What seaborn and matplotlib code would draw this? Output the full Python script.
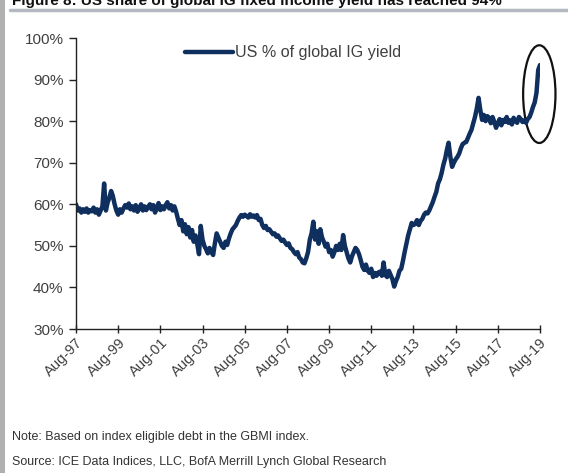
import numpy as np
import pandas as pd
import matplotlib
matplotlib.use("Agg")
import matplotlib.pyplot as plt
import matplotlib.dates as mdates
from matplotlib.patches import Ellipse
from matplotlib.ticker import FuncFormatter
import seaborn as sns

# Monthly values (US % of global IG yield)
y1997 = [60.0, 58.5, 59.0, 58.0, 58.8]  # Aug-Dec
y1998 = [58.2, 59.0, 58.0, 58.6, 58.3, 59.2, 58.0, 58.8, 57.5, 58.5, 59.5, 65.0]
y1999 = [58.5, 60.5, 61.5, 63.2, 62.0, 60.0, 58.5, 57.5, 58.8, 58.0, 59.0, 59.8]
y2000 = [59.2, 60.2, 58.8, 59.5, 58.5, 59.8, 58.2, 59.0, 60.0, 58.5, 59.5, 58.6]
y2001 = [59.4, 60.0, 58.8, 59.8, 58.0, 59.2, 60.3, 58.6, 59.5, 58.8, 59.8, 60.5]
y2002 = [59.0, 59.8, 58.5, 59.5, 58.2, 56.5, 55.0, 56.2, 53.5, 55.2, 52.8, 54.5]
y2003 = [52.0, 53.8, 51.0, 52.5, 50.5, 48.0, 54.8, 51.5, 50.0, 49.2, 48.2, 49.5]
y2004 = [48.5, 47.8, 50.5, 53.0, 52.0, 51.0, 50.0, 49.5, 51.0, 50.2, 51.8, 53.0]
y2005 = [54.0, 54.5, 55.0, 56.0, 56.8, 57.4, 57.0, 57.5, 57.2, 56.8, 57.6, 57.0]
y2006 = [57.3, 56.8, 57.4, 56.2, 56.5, 55.0, 54.3, 54.8, 53.8, 54.0, 53.4, 52.8]
y2007 = [53.0, 52.2, 52.5, 51.8, 51.2, 51.5, 50.8, 50.2, 50.6, 49.5, 49.2, 48.5]
y2008 = [48.0, 48.5, 47.2, 46.8, 46.0, 45.8, 47.0, 48.5, 51.5, 53.0, 55.8, 51.5]
y2009 = [53.5, 50.5, 54.0, 52.0, 51.0, 49.8, 50.5, 48.5, 49.0, 47.4, 48.5, 50.0]
y2010 = [49.0, 50.5, 49.0, 52.6, 50.0, 48.5, 47.0, 46.0, 47.5, 48.5, 49.5, 49.0]
y2011 = [48.0, 46.5, 45.0, 44.2, 45.5, 44.0, 43.5, 44.5, 42.5, 43.5, 42.8, 43.6]
y2012 = [43.8, 42.8, 46.0, 43.0, 42.5, 44.0, 43.0, 42.0, 40.2, 41.5, 42.5, 44.0]
y2013 = [44.5, 46.5, 48.5, 50.5, 52.5, 54.0, 55.5, 55.0, 55.3, 56.2, 55.0, 56.0]
y2014 = [56.5, 57.5, 58.0, 57.8, 58.5, 59.5, 60.5, 61.8, 63.0, 65.0, 66.0, 67.5]
y2015 = [69.5, 71.0, 73.0, 74.8, 71.5, 69.0, 70.0, 70.8, 71.4, 72.2, 73.5, 74.5]
y2016 = [74.8, 75.0, 76.0, 77.0, 77.9, 79.5, 81.0, 83.0, 85.6, 82.7, 80.3, 81.5]
y2017 = [80.0, 81.2, 80.8, 79.5, 81.0, 79.8, 78.4, 79.5, 80.5, 79.0, 80.3, 79.8]
y2018 = [81.0, 79.6, 80.2, 79.2, 80.8, 80.0, 79.6, 81.0, 80.5, 79.8, 80.2, 79.6]
y2019 = [80.5, 81.0, 82.0, 83.4, 84.5, 86.8, 92.3, 93.5]  # Jan-Aug

values = (y1997 + y1998 + y1999 + y2000 + y2001 + y2002 + y2003 + y2004 + y2005
          + y2006 + y2007 + y2008 + y2009 + y2010 + y2011 + y2012 + y2013 + y2014
          + y2015 + y2016 + y2017 + y2018 + y2019)
dates = pd.date_range("1997-08-01", periods=len(values), freq="MS")
df = pd.DataFrame({"date": dates, "share": values})

tick_years = list(range(1997, 2020, 2))
tick_labels = [f"Aug-{y % 100:02d}" for y in tick_years]
series_label = "US % of global IG yield"
title = "Figure 8: US share of global IG fixed income yield has reached 94%"
note = "Note: Based on index eligible debt in the GBMI index."
source = "Source: ICE Data Indices, LLC, BofA Merrill Lynch Global Research"

sns.set_theme(style="white")
plt.rcParams["font.family"] = ["Liberation Sans", "DejaVu Sans"]

fig = plt.figure(figsize=(5.68, 4.73), dpi=100)
ax = fig.add_axes([76 / 568, 1 - 329 / 473, 464 / 568, (329 - 38) / 473])

sns.lineplot(data=df, x="date", y="share", ax=ax, color="#0f2f5f",
             linewidth=3.2, label=series_label)

ax.set_xlim(pd.Timestamp("1997-08-01"), pd.Timestamp("2019-08-01"))
ax.set_ylim(30, 100)
ax.set_yticks(range(30, 101, 10))
ax.yaxis.set_major_formatter(FuncFormatter(lambda v, p: f"{int(v)}%"))
ax.set_xticks([pd.Timestamp(f"{y}-08-01") for y in tick_years])
ax.set_xticklabels(tick_labels, rotation=45, ha="right", rotation_mode="anchor")
ax.set_xlabel("")
ax.set_ylabel("")

for s in ["top", "right"]:
    ax.spines[s].set_visible(False)
for s in ["left", "bottom"]:
    ax.spines[s].set_color("#222222")
    ax.spines[s].set_linewidth(1.0)
ax.tick_params(axis="y", which="major", direction="out", length=5, width=1,
               color="#222222", labelsize=11, labelcolor="#404040", pad=4, left=True)
ax.tick_params(axis="x", which="major", direction="inout", length=6, width=1,
               color="#222222", labelsize=10.5, labelcolor="#404040", pad=2, bottom=True)

leg = ax.legend(loc="upper center", bbox_to_anchor=(0.468, 1.025), frameon=False,
                handlelength=3.0, handletextpad=0.15, fontsize=11.6)
for t in leg.get_texts():
    t.set_color("#404040")

# highlight ellipse
cx = mdates.date2num(pd.Timestamp("2019-07-20"))
ell = Ellipse((cx, 86.5), width=560, height=23.5, fill=False,
              edgecolor="#111111", linewidth=1.6, clip_on=False)
ax.add_patch(ell)

# decorations: title (cut at top, as in the source image), rule, left border
fig.text(12 / 568, 1 - 5 / 473, title, fontsize=11, fontweight="bold",
         color="#111111", ha="left", va="baseline")
fig.add_artist(plt.Line2D([10 / 568, 1], [1 - 10 / 473, 1 - 10 / 473],
                          color="#b4b8c0", linewidth=2.5))
fig.add_artist(plt.Rectangle((0, 0), 5 / 568, 1, color="#b0b0b0", linewidth=0))

fig.text(12 / 568, 1 - 437 / 473, note, fontsize=9, color="#333333", ha="left", va="center")
fig.text(12 / 568, 1 - 462 / 473, source, fontsize=9, color="#333333", ha="left", va="center")

fig.savefig("out.png", dpi=100)
